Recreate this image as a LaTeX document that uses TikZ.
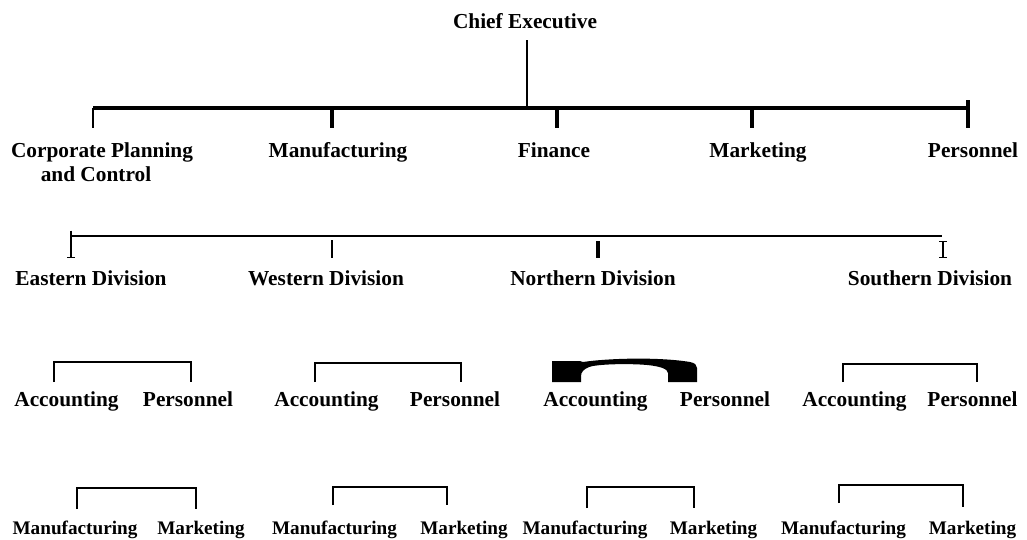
\documentclass[tikz,border=0pt]{standalone}
\usepackage{fontspec}
\setmainfont{Liberation Serif}
\begin{document}
\begin{tikzpicture}[x=0.75pt,y=-0.75pt,
  lbl/.style={font=\bfseries\fontsize{16}{17.3}\selectfont, inner sep=0pt, anchor=base},
  lbls/.style={font=\bfseries\fontsize{14.4}{17}\selectfont, inner sep=0pt, anchor=base},
  bar/.style={line width=2.4pt},
  tick/.style={line width=2.4pt},
  brk/.style={line width=1.6pt}]
\useasboundingbox (0,0) rectangle (1027,539);

% ---- level 0
\node[lbl] (ce) at (525,28) {Chief Executive};
% ---- level 1 labels
\node[lbl, align=center] (cp) at (102,181) {Corporate Planning\\\hspace*{-9pt}and Control};
\node[lbl] (mf) at (338,157) {Manufacturing};
\node[lbl] (fi) at (554,157) {Finance};
\node[lbl] (mk) at (758,157) {Marketing};
\node[lbl] (pe) at (973,157) {Personnel};

% bar points level 1
\coordinate (ceb) at (527,40);
\coordinate (cej) at (527,108);
\coordinate (b1l) at (93,108);
\coordinate (b1r) at (968,108);
\coordinate (t1a) at (93,128);
\coordinate (t1b) at (332,128);
\coordinate (t1c) at (557,128);
\coordinate (t1d) at (752,128);
\coordinate (t1e) at (968,128);

\draw[tick, line width=1.8pt] (ceb) -- (cej);
\draw[bar] (b1l) -- (b1r);
\draw[tick, line width=1.6pt] (b1l) -- (t1a);
\draw[tick] (t1b |- b1l) -- (t1b);
\draw[tick] (t1c |- b1l) -- (t1c);
\draw[tick] (t1d |- b1l) -- (t1d);
\draw[tick] ([yshift=6]b1r) -- (t1e);

% ---- level 2
\node[lbl] (ed) at (91,285) {Eastern Division};
\node[lbl] (wd) at (326,285) {Western Division};
\node[lbl] (nd) at (593,285) {Northern Division};
\node[lbl] (sd) at (930,285) {Southern Division};

\coordinate (b2l) at (71,236);
\coordinate (b2r) at (942,236);
\coordinate (t2a) at (71,258);
\coordinate (t2b) at (332,258);
\coordinate (t2c) at (598,258);
\coordinate (t2d) at (943,258);
\draw[bar, line width=2.1pt] (b2l) -- (b2r);
\draw[line width=1.8pt] ([yshift=4]b2l) -- (t2a);
\draw[line width=1.2pt] (67,257.5) -- (75,257.5);
\draw[line width=1.5pt] (332,240) -- (t2b);
\draw[line width=2.6pt] (598,241) -- (t2c);
\draw[line width=1.7pt] (943,241) -- (t2d);
\draw[line width=1.0pt] (939,241.5) -- (947,241.5) (939,257.5) -- (947,257.5);

% ---- level 3
\node[lbl] (ea) at (66.5,406) {Accounting};
\node[lbl] (ep) at (188,406) {Personnel};
\node[lbl] (wa) at (326.5,406) {Accounting};
\node[lbl] (wp) at (455,406) {Personnel};
\node[lbl] (na) at (595.5,406) {Accounting};
\node[lbl] (np) at (725,406) {Personnel};
\node[lbl] (sa) at (854.5,406) {Accounting};
\node[lbl] (sp) at (972.5,406) {Personnel};

\draw[brk] (54,382) -- (54,362) -- (191,362) -- (191,382);
\draw[brk] (315,382) -- (315,363) -- (461,363) -- (461,382);
\draw[brk] (843,382) -- (843,364) -- (977,364) -- (977,382);
\fill (552,361) -- (580,361) -- (583,362)
  .. controls (610,358) and (660,357) .. (690,362)
  .. controls (695,363) and (697,365) .. (697,368)
  -- (697,382) -- (668,382) -- (668,373)
  .. controls (668,369) and (660,365.5) .. (640,364.5)
  .. controls (620,363.5) and (596,364.5) .. (589,367)
  .. controls (584,369) and (581,372) .. (581,376)
  -- (581,382) -- (552,382) -- cycle;

% ---- level 4
\node[lbls] (em) at (75,534) {Manufacturing};
\node[lbls] (ek) at (201,534) {Marketing};
\node[lbls] (wm) at (334.5,534) {Manufacturing};
\node[lbls] (wk) at (464,534) {Marketing};
\node[lbls] (nm) at (585,534) {Manufacturing};
\node[lbls] (nk) at (713.5,534) {Marketing};
\node[lbls] (sm) at (843.5,534) {Manufacturing};
\node[lbls] (sk) at (972.5,534) {Marketing};

\draw[brk] (77,509) -- (77,488) -- (196,488) -- (196,509);
\draw[brk] (333,505) -- (333,487) -- (447,487) -- (447,505);
\draw[brk] (587,508) -- (587,487) -- (694,487) -- (694,508);
\draw[brk] (839,503) -- (839,485) -- (963,485) -- (963,507);
\end{tikzpicture}
\end{document}
